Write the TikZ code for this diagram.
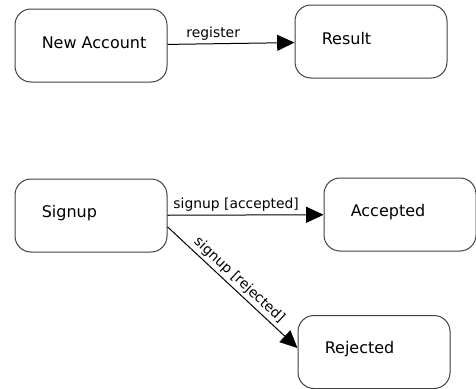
\documentclass[tikz,border=0pt]{standalone}
\usepackage{fontspec}
\setmainfont{DejaVu Sans}
\usetikzlibrary{arrows.meta}

\tikzset{
  state/.style={draw=black!75, line width=0.75pt, rounded corners=12pt,
    minimum width=114pt, minimum height=54.75pt, inner sep=0pt},
  statetext/.style={anchor=west, inner sep=0pt, xshift=20.25pt, yshift=2pt,
    font=\fontsize{12}{14}\selectfont},
  trans/.style={line width=0.75pt, -{Triangle[length=13pt,width=12pt]}},
  translabel/.style={font=\fontsize{10.4}{12}\selectfont, inner sep=2pt}
}

\begin{document}
\begin{tikzpicture}[x=0.75pt, y=-0.75pt]
  \useasboundingbox (0,0) rectangle (476,389);

  \node[state, label={[statetext]west:New Account}] (newaccount) at (91,45.5) {};
  \node[state, label={[statetext]west:Result}] (result) at (371,41.5) {};

  \node[state, label={[statetext]west:Signup}] (signup) at (91,215.5) {};
  \node[state, label={[statetext]west:Accepted}] (accepted) at (400,214.5) {};
  \node[state, label={[statetext]west:Rejected}] (rejected) at (374,352) {};

  \draw[trans] (newaccount) -- node[translabel, above, pos=0.36] {register} (result);
  \draw[trans] (signup) -- node[translabel, above, pos=0.44] {signup [accepted]} (accepted);
  \draw[trans] ([yshift=-8.5pt]signup.east) -- node[translabel, sloped, above, pos=0.5] {signup [rejected]} ([yshift=3pt]rejected.west);
\end{tikzpicture}
\end{document}
